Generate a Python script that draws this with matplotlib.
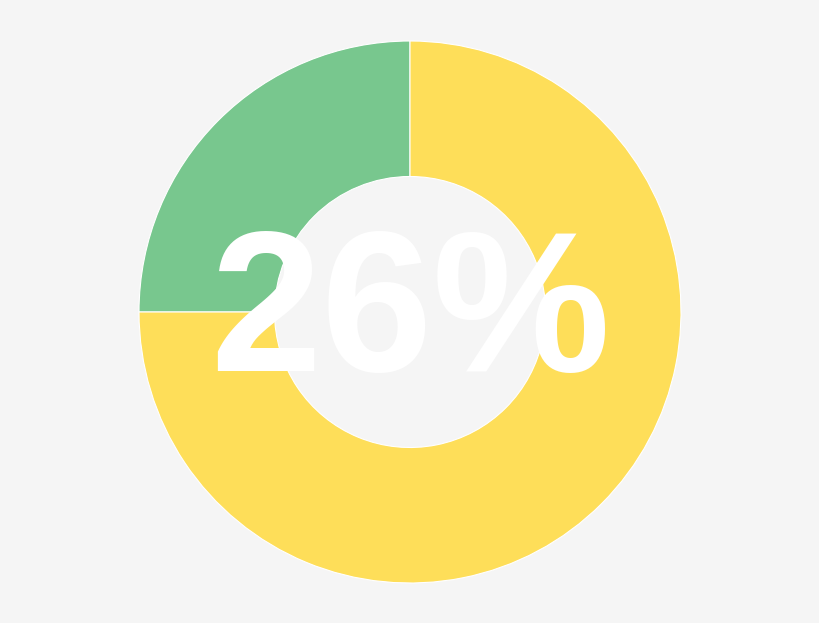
import matplotlib
matplotlib.use("Agg")
import matplotlib.pyplot as plt

# donut shares (the arc split reads as a quarter) and the centre label
labels = ["done", "remaining"]
shares = [25, 75]
colors = ["#78C78E", "#FEDE59"]
center_label = "26%"

fig = plt.figure(figsize=(8.2, 6.23), dpi=100)
fig.patch.set_facecolor("#F5F5F5")

# square axes sized so the ring is ~542 px across, centred at (410, 312)
ax = fig.add_axes([139 / 820, 40 / 623, 542 / 820, 542 / 623])
ax.set_facecolor("#F5F5F5")

ax.pie(shares, colors=colors, startangle=90, counterclock=True, radius=1.0,
       wedgeprops=dict(width=0.5, edgecolor="white", linewidth=0.8))

ax.text(0, -0.216, center_label, ha="center", va="baseline",
        fontsize=144, fontweight="bold", color="white",
        family=["Liberation Sans", "DejaVu Sans"])

ax.set_xlim(-1, 1)
ax.set_ylim(-1, 1)
ax.set_aspect("equal")
ax.axis("off")

fig.savefig("out.png", dpi=100, facecolor=fig.get_facecolor())
